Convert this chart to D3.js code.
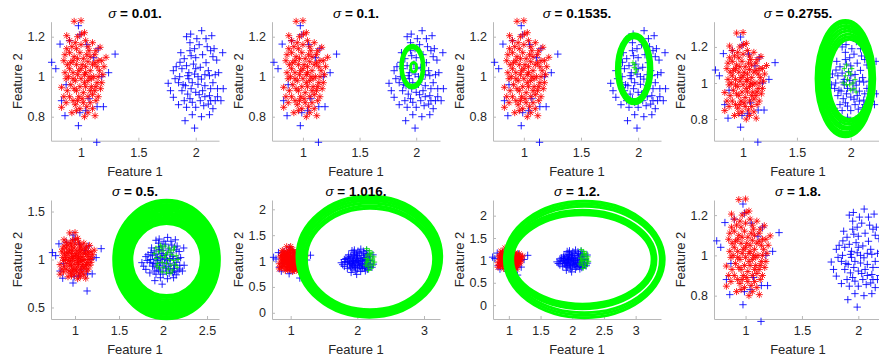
<!DOCTYPE html>
<html>
<head>
<meta charset="utf-8">
<script src="https://cdn.jsdelivr.net/npm/d3@7"></script>
<style>
  html, body { margin: 0; padding: 0; background: #fff; overflow: hidden; }
  svg { display: block; }
</style>
</head>
<body>
<div id="chart"></div>
<script>
// Panel titles (sigma values)
const sigmaLabels = ['0.01', '0.1', '0.1535', '0.2755', '0.5', '1.016', '1.2', '1.8'];

// Axis limits for each panel
const xLimits = [[0.738, 2.203], [0.727, 2.21], [0.73, 2.2], [0.73, 2.29],
                 [0.727, 2.636], [0.72, 3.24], [0.75, 3.40], [0.72, 2.21]];
const yLimits = [[0.68, 1.275], [0.68, 1.275], [0.68, 1.275], [0.68, 1.34],
                 [0.38, 1.62], [-0.12, 2.18], [-0.31, 2.35], [0.684, 1.275]];

// Tick values
const xTickValues = [[1, 1.5, 2], [1, 1.5, 2], [1, 1.5, 2], [1, 1.5, 2],
                     [1, 1.5, 2, 2.5], [1, 2, 3], [1, 1.5, 2, 2.5, 3], [1, 1.5, 2]];
const yTickValues = [[0.8, 1, 1.2], [0.8, 1, 1.2], [0.8, 1, 1.2], [0.8, 1, 1.2],
                     [0.5, 1, 1.5], [0, 0.5, 1, 1.5, 2], [0, 0.5, 1, 1.5, 2], [0.8, 1, 1.2]];

// Class 1 points (red asterisks)
const redPoints = [
  [0.94,1.277],[1.0,1.28],[0.875,1.205],[1.005,1.213],[1.04,1.18],[0.95,1.17],[0.92,1.15],
  [1.166,1.147],[0.875,1.14],[0.96,1.14],[1.07,1.13],[0.9,1.12],[0.99,1.12],[1.12,1.11],
  [1.218,1.097],[1.18,1.08],[0.85,1.08],[0.93,1.08],[1.02,1.09],[1.06,1.075],[0.88,1.06],
  [0.96,1.06],[1.1,1.06],[1.14,1.05],[0.9,1.04],[1.0,1.04],[1.04,1.05],[1.08,1.03],
  [1.16,1.03],[0.93,1.02],[0.97,1.01],[1.03,1.01],[1.11,1.0],[1.19,1.01],[0.87,0.99],
  [0.95,0.98],[1.0,0.99],[1.06,0.98],[1.14,0.97],[0.91,0.96],[0.99,0.95],[1.04,0.95],
  [1.09,0.95],[0.83,0.947],[0.88,0.93],[0.96,0.93],[1.02,0.92],[1.12,0.93],[1.17,0.94],
  [0.9,0.9],[0.98,0.9],[1.06,0.9],[1.1,0.91],[0.93,0.88],[1.02,0.87],[1.08,0.87],
  [0.87,0.87],[0.95,0.86],[1.05,0.85],[0.83,0.847],[0.99,0.84],[1.1,0.84],[1.122,0.805],
  [0.92,0.82],[1.06,0.82],[0.97,0.88],[1.13,0.88],[1.01,1.06],[0.94,1.1],[1.08,1.1],
  [1.15,1.0],[0.89,1.0],[1.03,0.97],[1.07,1.0],[0.98,1.03],[1.12,1.07],[1.0,1.16],[1.06,1.15],
  [0.97,1.2],[1.03,1.22],[0.9,1.18],[1.1,1.17],[1.13,1.13],[0.86,1.11],[1.05,1.11],[0.97,1.09],
  [1.15,1.08],[0.91,1.07],[1.04,1.02],[1.2,1.05],[0.86,1.02],[1.09,0.99],[0.93,0.99],[1.13,0.95],
  [0.85,0.9],[1.01,0.89],[1.15,0.9],[0.96,0.83],[1.03,0.8],[1.08,0.93],[0.94,0.94],[1.18,0.97]
];

// Class 2 points (blue plus signs), including the ones mixed into the left cluster
const bluePoints = [
  [1.956,1.213],[2.052,1.23],[2.14,1.205],[1.95,1.17],[2.03,1.16],[2.1,1.15],[2.16,1.14],
  [1.863,1.072],[1.9,1.09],[1.96,1.105],[2.0,1.095],[2.06,1.11],[2.183,1.083],[1.805,1.03],
  [1.88,1.04],[1.92,1.055],[1.98,1.063],[2.04,1.047],[2.11,1.03],[1.86,1.0],[1.93,1.005],
  [1.99,1.013],[2.05,0.988],[2.12,1.005],[1.76,0.967],[1.85,0.97],[1.91,0.955],[1.97,0.97],
  [2.02,0.962],[2.08,0.955],[2.15,0.97],[2.19,0.94],[1.805,0.897],[1.88,0.93],[1.93,0.913],
  [2.0,0.922],[2.06,0.93],[2.12,0.905],[1.9,0.88],[1.97,0.872],[2.04,0.88],[2.11,0.863],
  [2.17,0.88],[1.92,0.847],[2.0,0.847],[2.07,0.855],[2.13,0.88],[1.907,0.78],[1.99,0.743],
  [2.12,0.81],[2.0,1.04],[1.94,1.02],[2.02,1.0],[1.96,0.94],[2.09,1.07],[2.15,1.1],
  [1.83,1.05],[2.2,1.02],[1.95,1.13],[2.03,0.91],[2.235,1.12],[2.24,0.94],[2.22,0.88],
  [1.92,1.2],[2.01,1.19],[2.09,1.19],[1.87,1.12],[2.13,1.13],[1.99,1.14],[1.82,0.99],
  [2.17,1.01],[1.94,0.99],[2.08,1.01],[1.89,0.96],[2.13,0.94],[1.95,0.89],[2.08,0.9],
  [1.85,0.86],[2.15,0.84],[1.97,0.81],[2.05,0.8],[2.19,0.9],[1.78,0.93],
  [0.744,1.072],[0.78,1.04],[0.817,1.163],[0.977,1.255],[0.99,1.21],[1.05,1.16],[1.11,1.095],
  [1.297,1.113],[1.24,1.02],[1.18,1.0],[1.14,0.85],[1.195,0.85],[0.86,0.805],[0.99,0.82],
  [0.977,0.755],[1.137,0.672],[0.83,0.88],[0.87,0.96],[1.07,0.89],[1.04,0.83],[0.9,1.18],
  [1.15,1.14]
];

// Green marked points per panel
const green3 = [[1.955,1.07],[1.965,1.045],[1.975,1.02],[1.985,1.035],[1.97,1.06]];
const green4 = [[1.94,1.08],[1.96,1.1],[1.98,1.06],[1.95,1.04],[2.0,1.05],[1.97,1.02],[2.02,1.0],
  [1.99,0.99],[2.03,0.97],[2.05,0.95],[2.0,0.96],[1.96,0.99],[2.04,1.02],[1.93,1.0],[2.01,1.08]];
const green5 = [[1.92,1.12],[1.97,1.15],[2.02,1.14],[2.07,1.12],[2.12,1.1],[1.9,1.06],[1.95,1.08],
  [2.0,1.09],[2.05,1.07],[2.1,1.05],[2.15,1.04],[1.92,1.01],[1.97,1.03],[2.02,1.02],[2.07,1.0],
  [2.12,0.99],[1.94,0.96],[1.99,0.97],[2.04,0.96],[2.09,0.94],[2.14,0.95],[1.96,0.91],[2.01,0.92],
  [2.06,0.9],[2.11,0.89],[1.99,0.87],[2.04,0.86],[2.09,0.86],[2.16,0.92],[2.17,1.0],[1.93,0.93],
  [2.03,1.05],[2.08,1.09],[1.98,1.12],[2.13,1.13]];
const green67 = [[2.14,1.24],[2.18,1.2],[2.22,1.16],[2.15,1.12],[2.2,1.1],[2.25,1.08],[2.13,1.05],
  [2.17,1.03],[2.22,1.0],[2.26,0.98],[2.14,0.97],[2.19,0.94],[2.24,0.92],[2.16,0.89],[2.21,0.86],
  [2.17,0.82],[2.12,0.92],[2.23,1.04],[2.19,1.14],[2.15,1.0]];

// Contour lines as ellipses: [cx, cy, rx, ry] in data units
const ring2 = [[1.966,1.05,0.088,0.093],[1.966,1.05,0.095,0.100],[1.966,1.05,0.102,0.107],
  [1.977,1.047,0.026,0.024]];
const ring3 = [[1.965,1.04,0.125,0.155],[1.965,1.04,0.133,0.160],[1.965,1.04,0.141,0.165],
  [1.965,1.04,0.148,0.170],[1.965,1.04,0.155,0.175]];
const ring4 = [[1.988,1.020,0.190,0.222],[1.982,1.021,0.202,0.236],[1.976,1.022,0.214,0.250],
  [1.970,1.022,0.226,0.266],[1.964,1.023,0.238,0.280],[1.958,1.023,0.250,0.296],
  [1.953,1.024,0.262,0.310],[1.950,1.024,0.272,0.322]];
const ring5 = [[2.04,1.0,0.395,0.375],[2.04,1.0,0.414,0.397],[2.04,1.0,0.433,0.419],
  [2.04,1.0,0.451,0.441],[2.04,1.0,0.470,0.463],[2.04,1.0,0.489,0.485],[2.04,1.0,0.508,0.507],
  [2.04,1.0,0.527,0.529],[2.04,1.0,0.545,0.551],[2.04,1.0,0.564,0.574],[2.04,1.0,0.582,0.596],
  [2.04,1.0,0.600,0.618]];
const ring6 = [[2.19,1.04,0.955,0.98],[2.188,1.05,0.98,1.02],[2.186,1.06,1.01,1.06],
  [2.184,1.07,1.035,1.10],[2.182,1.078,1.06,1.135],[2.18,1.085,1.085,1.17]];
const ring7 = [[2.16,1.02,1.10,1.0],[2.16,1.02,1.13,1.05],[2.16,1.02,1.16,1.10],
  [2.19,1.02,1.20,1.19],[2.19,1.02,1.23,1.245],[2.19,1.02,1.26,1.30]];

const contourSets = [[], ring2, ring3, ring4, ring5, ring6, ring7, []];
const greenSets = [[], [], green3, green4, green5, green67, green67, []];

// Layout
const W = 879, H = 362;
const colLeft = [51, 272, 493, 714];
const rowTop = [21.7, 200];
const plotW = 168, plotH = 119;
const font = "'Liberation Sans', Arial, Helvetica, sans-serif";

const svg = d3.select('#chart')
    .append('svg')
    .attr('width', W)
    .attr('height', H);

function plusPath(x, y, r) {
    return `M${x - r},${y}H${x + r}M${x},${y - r}V${y + r}`;
}

function starPath(x, y, r) {
    const d = r * 0.72;
    return plusPath(x, y, r) +
        `M${x - d},${y - d}L${x + d},${y + d}M${x - d},${y + d}L${x + d},${y - d}`;
}

sigmaLabels.forEach((label, i) => {
    const left = colLeft[i % 4];
    const top = rowTop[Math.floor(i / 4)];

    const x = d3.scaleLinear().domain(xLimits[i]).range([0, plotW]);
    const y = d3.scaleLinear().domain(yLimits[i]).range([plotH, 0]);

    const g = svg.append('g').attr('transform', `translate(${left},${top})`);

    // Axes (left and bottom only, ticks pointing inward)
    const xAxis = g.append('g')
        .attr('transform', `translate(0,${plotH})`)
        .call(d3.axisBottom(x).tickValues(xTickValues[i]).tickFormat(d => String(d))
            .tickSizeInner(-3).tickSizeOuter(0).tickPadding(7));
    const yAxis = g.append('g')
        .call(d3.axisLeft(y).tickValues(yTickValues[i]).tickFormat(d => String(d))
            .tickSizeInner(-3).tickSizeOuter(0).tickPadding(6));

    [xAxis, yAxis].forEach(a => {
        a.select('.domain').attr('stroke', '#b8b8b8');
        a.selectAll('.tick line').attr('stroke', '#b8b8b8');
        a.selectAll('.tick text')
            .attr('fill', '#262626')
            .attr('font-family', font)
            .attr('font-size', 12.5);
    });

    // Blue plus markers
    g.append('path')
        .attr('d', bluePoints.map(p => plusPath(x(p[0]), y(p[1]), 3.7)).join(''))
        .attr('fill', 'none')
        .attr('stroke', '#0000ff')
        .attr('stroke-opacity', 0.85)
        .attr('stroke-width', 1);

    // Red asterisk markers
    g.append('path')
        .attr('d', redPoints.map(p => starPath(x(p[0]), y(p[1]), 3.5)).join(''))
        .attr('fill', 'none')
        .attr('stroke', '#ff0000')
        .attr('stroke-opacity', 0.85)
        .attr('stroke-width', 1);

    // Green markers
    g.append('path')
        .attr('d', greenSets[i].map(p => plusPath(x(p[0]), y(p[1]), 2.5)).join(''))
        .attr('fill', 'none')
        .attr('stroke', '#00e000')
        .attr('stroke-opacity', 0.85)
        .attr('stroke-width', 1);

    // Contour rings
    g.append('g')
        .selectAll('ellipse')
        .data(contourSets[i])
        .enter().append('ellipse')
        .attr('cx', d => x(d[0]))
        .attr('cy', d => y(d[1]))
        .attr('rx', d => Math.abs(x(d[0] + d[2]) - x(d[0])))
        .attr('ry', d => Math.abs(y(d[1] + d[3]) - y(d[1])))
        .attr('fill', 'none')
        .attr('stroke', '#00ff00')
        .attr('stroke-width', 3);

    // Title
    const title = g.append('text')
        .attr('x', plotW / 2)
        .attr('y', -4)
        .attr('text-anchor', 'middle')
        .attr('font-family', font)
        .attr('font-size', 13.5)
        .attr('fill', '#000');
    title.append('tspan').attr('font-style', 'italic').text('σ');
    title.append('tspan').attr('font-weight', 'bold').text(` = ${label}.`);

    // Axis labels
    g.append('text')
        .attr('x', plotW / 2)
        .attr('y', plotH + 35)
        .attr('text-anchor', 'middle')
        .attr('font-family', font)
        .attr('font-size', 13)
        .attr('fill', '#262626')
        .text('Feature 1');

    g.append('text')
        .attr('transform', `translate(-29,${plotH / 2}) rotate(-90)`)
        .attr('text-anchor', 'middle')
        .attr('font-family', font)
        .attr('font-size', 13)
        .attr('fill', '#262626')
        .text('Feature 2');
});
</script>
</body>
</html>
